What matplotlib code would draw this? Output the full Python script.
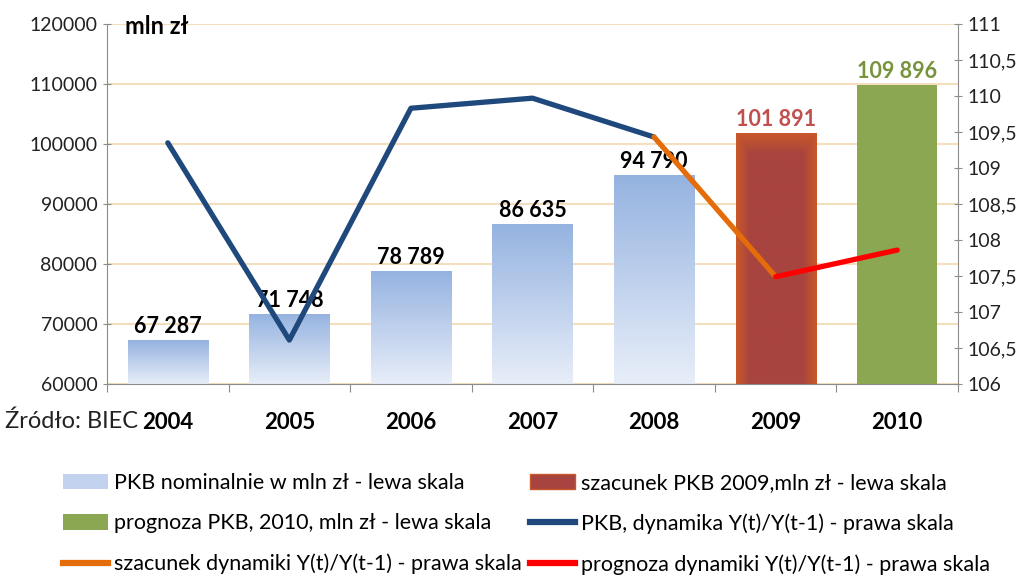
import matplotlib
matplotlib.use("Agg")
import matplotlib.pyplot as plt
import numpy as np
from matplotlib.patches import Patch
from matplotlib.lines import Line2D
from matplotlib.colors import to_rgb

plt.rcParams['font.family'] = ['Lato', 'DejaVu Sans']

years = ['2004', '2005', '2006', '2007', '2008', '2009', '2010']
gdp = [67287, 71748, 78789, 86635, 94790, 101891, 109896]
gdp_labels = ['67 287', '71 748', '78 789', '86 635', '94 790', '101 891', '109 896']
dyn_years = ['2004', '2005', '2006', '2007', '2008']
dyn = [109.35, 106.61, 109.83, 109.97, 109.43]
est_years = ['2008', '2009']
est_dyn = [109.43, 107.49]
fc_years = ['2009', '2010']
fc_dyn = [107.49, 107.86]

left_ticks = [60000, 70000, 80000, 90000, 100000, 110000, 120000]
right_ticks = [106, 106.5, 107, 107.5, 108, 108.5, 109, 109.5, 110, 110.5, 111]

navy = '#1F497D'
orange = '#E46C0A'
red = '#FF0000'
green = '#8BA751'
darkred = '#A8443F'
grid_col = '#F3DFBD'
axis_col = '#8C8C8C'

fig = plt.figure(figsize=(10.36, 5.77), dpi=100)
ax = fig.add_axes([107 / 1036, 1 - 384 / 577, 851 / 1036, 360 / 577])
x = np.arange(len(years))
bw = 0.66
ax.set_xlim(-0.5, len(years) - 0.5)
ax.set_ylim(60000, 120000)


def gradient_bar(xc, h, top_col, bot_col):
    bar = ax.bar(xc, h - 60000, bottom=60000, width=bw, color='none', edgecolor='none')[0]
    t = np.linspace(0, 1, 100).reshape(-1, 1)
    c1 = np.array(to_rgb(top_col))
    c2 = np.array(to_rgb(bot_col))
    img = (1 - t)[..., None] * c1 + t[..., None] * c2
    # row 0 is the top of the bar
    im = ax.imshow(img, extent=[xc - bw / 2, xc + bw / 2, 60000, h], aspect='auto', zorder=2,
                   origin='upper')
    im.set_clip_path(bar)


for i in range(5):
    gradient_bar(x[i], gdp[i], '#95B3E0', '#E8EEF9')

# 2009 estimate bar: red with orange glow at the edges
bar09 = ax.bar(x[5], gdp[5] - 60000, bottom=60000, width=bw, color='none', edgecolor='none')[0]
ny, nx = 100, 60
yy, xx = np.mgrid[0:ny, 0:nx]
d = np.minimum(np.minimum(xx, nx - 1 - xx) / nx * 6, yy / ny * 12)
d = np.clip(d, 0, 1)[..., None]
img09 = (1 - d) * np.array(to_rgb('#C8582A')) + d * np.array(to_rgb(darkred))
im09 = ax.imshow(img09, extent=[x[5] - bw / 2, x[5] + bw / 2, 60000, gdp[5]], aspect='auto', zorder=2,
                 origin='upper')
im09.set_clip_path(bar09)

ax.bar(x[6], gdp[6] - 60000, bottom=60000, width=bw, color=green, zorder=2)
ax.set_xlim(-0.5, len(years) - 0.5)
ax.set_ylim(60000, 120000)

label_cols = ['black'] * 5 + ['#C0504D', '#77933C']
for i in range(len(years)):
    ax.text(x[i], gdp[i] + 500, gdp_labels[i], ha='center', va='bottom', fontsize=15.5,
            fontweight='bold', color=label_cols[i], zorder=5)

ax.set_yticks(left_ticks)
ax.set_yticklabels([str(v) for v in left_ticks], fontsize=14, color='#222222')
ax.yaxis.grid(True, color=grid_col, linewidth=1.5, zorder=0)
ax.set_axisbelow(True)
ax.set_xticks(np.arange(len(years) + 1) - 0.5)
ax.set_xticklabels([])
ax.set_xticks(x, minor=True)
ax.set_xticklabels(years, minor=True, fontsize=16, fontweight='bold')
ax.tick_params(axis='x', which='minor', length=0, pad=20)
ax.tick_params(axis='x', which='major', length=6, color=axis_col, direction='out')
ax.tick_params(axis='y', length=6, color=axis_col, direction='inout', pad=4)
for s in ['top', 'right']:
    ax.spines[s].set_visible(False)
for s in ['left', 'bottom']:
    ax.spines[s].set_color(axis_col)

ax2 = ax.twinx()
ax2.set_ylim(106, 111)
ax2.set_yticks(right_ticks)
ax2.set_yticklabels([('%g' % v).replace('.', ',') for v in right_ticks], fontsize=14, color='#222222')
ax2.tick_params(axis='y', length=6, color=axis_col, direction='inout', pad=4)
for s in ['top', 'left', 'bottom']:
    ax2.spines[s].set_visible(False)
ax2.spines['right'].set_color(axis_col)

pos = {y: i for i, y in enumerate(years)}
lw = 3.8
ax2.plot([pos[y] for y in dyn_years], dyn, color=navy, linewidth=lw, solid_capstyle='round', zorder=4)
ax2.plot([pos[y] for y in est_years], est_dyn, color=orange, linewidth=lw, solid_capstyle='round', zorder=4)
ax2.plot([pos[y] for y in fc_years], fc_dyn, color=red, linewidth=lw, solid_capstyle='round', zorder=4)

fig.text(125 / 1036, 1 - 27 / 577, 'mln zł', fontsize=17, fontweight='bold', va='center')
fig.text(5 / 1036, 1 - 421 / 577, 'Źródło: BIEC', fontsize=17, va='center', color='#222222')

col1 = [Patch(facecolor='#C3D3EF'), Patch(facecolor=green),
        Line2D([], [], color=orange, linewidth=4.5)]
lab1 = ['PKB nominalnie w mln zł - lewa skala', 'prognoza PKB, 2010, mln zł - lewa skala',
        'szacunek dynamiki Y(t)/Y(t-1) - prawa skala']
col2 = [Patch(facecolor=darkred, edgecolor='#C8582A'), Line2D([], [], color=navy, linewidth=4.5),
        Line2D([], [], color=red, linewidth=4.5)]
lab2 = ['szacunek PKB 2009,mln zł - lewa skala', 'PKB, dynamika Y(t)/Y(t-1) - prawa skala',
        'prognoza dynamiki Y(t)/Y(t-1) - prawa skala']
kw = dict(frameon=False, fontsize=15.5, handlelength=2.1, handleheight=0.75, handletextpad=0.25,
          labelspacing=0.95, borderpad=0, borderaxespad=0, loc='upper left')
fig.legend(col1, lab1, bbox_to_anchor=(63 / 1036, 1 - 473 / 577), **kw)
fig.legend(col2, lab2, bbox_to_anchor=(530 / 1036, 1 - 473 / 577), **kw)

fig.savefig('out.png', dpi=100)
